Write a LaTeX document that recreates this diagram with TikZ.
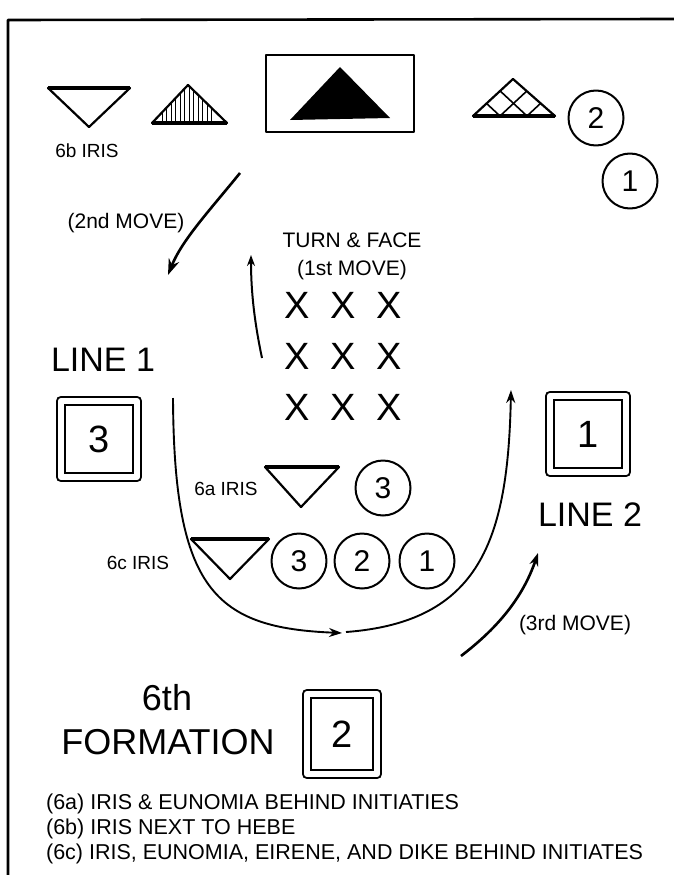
\documentclass[tikz,border=0pt]{standalone}
\usepackage{fontspec}
\setmainfont{Liberation Sans}
\usetikzlibrary{arrows.meta}
\tikzset{
  smalllbl/.style={font=\fontsize{19}{22}\selectfont,inner sep=0pt},
  movelbl/.style={font=\fontsize{21}{24}\selectfont,inner sep=0pt},
  notelbl/.style={font=\fontsize{21.5}{24}\selectfont,inner sep=0pt,anchor=west},
  biglbl/.style={font=\fontsize{34}{40}\selectfont,inner sep=0pt},
  dancer/.style={circle,draw,line width=2pt,minimum size=55pt,inner sep=0pt,font=\fontsize{30}{32}\selectfont},
  initbox/.style={draw,double,double distance=6pt,line width=2.4pt,minimum width=76pt,minimum height=76pt,inner sep=0pt,font=\fontsize{38}{40}\selectfont},
  crossmark/.style={font=\fontsize{38}{40}\selectfont,inner sep=0pt},
}
\begin{document}
\begin{tikzpicture}[x=1pt,y=-1pt,>={Stealth[length=13pt,width=9pt]},line width=2.2pt,line join=round]
  \useasboundingbox (0,0) rectangle (674,875);
  % frame: only top and left edge survive
  \draw[line width=2.6pt] (674,19) -- (8,20) -- (8,875);
  % top row: iris (6b), hatched, altar, cross-hatched, dancers 2 and 1
  \draw (48,88) -- (130,88) -- (89,127) -- cycle;
  \draw[line width=3.4pt] (48,88) -- (130,88);
  \node[smalllbl] (irisb) at (87,151) {6b IRIS};
  \draw (152,123) -- (188,85) -- (227,123) -- cycle;
  \draw[line width=3.4pt] (152,123) -- (227,123);
  \begin{scope}
    \clip (152,123) -- (188,85) -- (227,123) -- cycle;
    \foreach \x in {162,166.5,...,212} {
      \draw[line width=1pt] (\x,80) -- (\x,122);
    }
  \end{scope}
  \draw[line width=2.6pt] (266,55) rectangle (414,132);
  \fill (290,120) -- (340,67) -- (390,118) -- cycle;
  \draw (473,116) -- (513,79) -- (555,116) -- cycle;
  \draw[line width=3.4pt] (473,116) -- (555,116);
  \begin{scope}
    \clip (473,116) -- (513,79) -- (555,116) -- cycle;
    \foreach \x in {500,527} {
      \draw[line width=1.6pt] (\x,116) -- (\x+44,75);
      \draw[line width=1.6pt] (\x,116) -- (\x-44,75);
    }
  \end{scope}
  \node[dancer] (topb) at (596,118) {2};
  \node[dancer] (topa) at (630,181) {1};
  % moves
  \coordinate (twoa) at (240,173);
  \coordinate (twob) at (168,275);
  \draw[->,line width=2.6pt,>={Stealth[length=16pt,width=11pt]}] (twoa) .. controls (210,210) and (182,240) .. (twob);
  \node[movelbl] (twolbl) at (126,223) {(2nd MOVE)};
  \node[movelbl] (turn) at (352,240) {TURN \& FACE};
  \node[movelbl] (onelbl) at (352,270) {(1st MOVE)};
  \coordinate (onea) at (262,358);
  \coordinate (oneb) at (251,255);
  \draw[->,line width=2pt,>={Stealth[length=11pt,width=8pt]}] (onea) .. controls (254,320) and (251,290) .. (oneb);
  % initiates
  \foreach \r/\y in {1/305,2/356,3/407} {
    \foreach \c/\x in {1/297,2/343,3/389} {
      \node[crossmark] (x\r\c) at (\x,\y) {X};
    }
  }
  % line 1 and line 2
  \node[biglbl] (lineone) at (103,360) {LINE 1};
  \node[initbox] (boxc) at (99,439) {3};
  \node[initbox] (boxa) at (588,434) {1};
  \node[biglbl] (linetwo) at (590,515) {LINE 2};
  % 6a and 6c
  \draw (265,467) -- (339,467) -- (301,507) -- cycle;
  \draw[line width=3.4pt] (265,467) -- (339,467);
  \node[smalllbl] (irisa) at (226,489) {6a IRIS};
  \node[dancer] (rowa) at (383,488) {3};
  \draw (191,539) -- (269,539) -- (230,579) -- cycle;
  \draw[line width=3.4pt] (191,539) -- (269,539);
  \node[smalllbl] (irisc) at (138,563) {6c IRIS};
  \node[dancer] (rowc) at (299,561) {3};
  \node[dancer] (rowb) at (362,561) {2};
  \node[dancer] (rowo) at (427,561) {1};
  % the big U
  \coordinate (ua) at (173,398);
  \coordinate (ub) at (342,633);
  \coordinate (uc) at (346,632);
  \coordinate (ud) at (511,390);
  \draw[->,line width=1.9pt] (ua) .. controls (174,590) and (215,628) .. (ub);
  \draw[->,line width=1.9pt] (uc) .. controls (480,622) and (508,540) .. (ud);
  % third move
  \coordinate (threea) at (461,656);
  \coordinate (threeb) at (538,553);
  \draw[->,line width=2.6pt] (threea) .. controls (495,630) and (522,600) .. (threeb);
  \node[movelbl] (threelbl) at (575,625) {(3rd MOVE)};
  % title and box 2
  \node[font=\fontsize{36}{40}\selectfont,inner sep=0pt] (sixth) at (167,698) {6th};
  \node[font=\fontsize{36}{40}\selectfont,inner sep=0pt] (formation) at (168,742) {FORMATION};
  \node[initbox,minimum width=70pt,minimum height=80pt] (boxb) at (342,734) {2};
  % notes
  \node[notelbl] (notea) at (45,804) {(6a) IRIS \& EUNOMIA BEHIND INITIATIES};
  \node[notelbl] (noteb) at (45,829) {(6b) IRIS NEXT TO HEBE};
  \node[notelbl] (notec) at (45,854) {(6c) IRIS, EUNOMIA, EIRENE, AND DIKE BEHIND INITIATES};
\end{tikzpicture}
\end{document}
